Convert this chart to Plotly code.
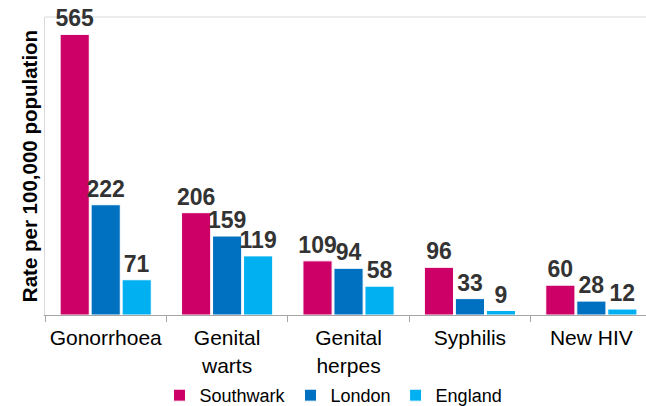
import plotly.graph_objects as go

categories = ["Gonorrhoea", "Genital<br>warts", "Genital<br>herpes", "Syphilis", "New HIV"]
southwark = [565, 206, 109, 96, 60]
london = [222, 159, 94, 33, 28]
england = [71, 119, 58, 9, 12]

series = [
    ("Southwark", southwark, "#CC0066"),
    ("London", london, "#0070C0"),
    ("England", england, "#00B0F0"),
]

fig = go.Figure()
for name, vals, col in series:
    fig.add_trace(go.Bar(
        x=categories, y=vals, name=name,
        marker=dict(color=col, line=dict(color="white", width=1)),
        text=[str(v) for v in vals], textposition="outside",
        constraintext="none", cliponaxis=False,
        textfont=dict(family="Liberation Sans, Arial", size=23, color="#333333", weight="bold"),
    ))

fig.update_layout(
    width=646, height=406,
    margin=dict(l=45, r=0, t=17, b=91, autoexpand=False),
    paper_bgcolor="white", plot_bgcolor="white",
    barmode="group", bargap=0.234, bargroupgap=0.06,
    font=dict(family="Liberation Sans, Arial", color="#000000"),
    showlegend=True,
    legend=dict(orientation="h", x=0.48, xanchor="center", y=-0.27, yanchor="middle",
                font=dict(size=18, color="#000000"), itemwidth=30,
                traceorder="normal"),
    xaxis=dict(
        type="category", range=[-0.5, 4.45], automargin=False,
        showline=True, linecolor="#A6A6A6", linewidth=1, mirror=False,
        ticks="outside", ticklen=6, tickcolor="#A6A6A6", tickson="boundaries",
        ticklabelstandoff=4,
        tickfont=dict(size=21, color="#000000"), showgrid=False,
    ),
    yaxis=dict(
        range=[0, 600], showticklabels=False, showgrid=False, zeroline=False,
        showline=True, linecolor="#D9D9D9", linewidth=1, ticks="", automargin=False,
        title=dict(text="Rate per 100,000 population", standoff=0,
                   font=dict(size=20.5, color="#000000", weight="bold")),
    ),
    shapes=[dict(type="line", xref="paper", yref="paper", x0=0, x1=1, y0=1, y1=1,
                 line=dict(color="#D9D9D9", width=1), layer="below")],
)

fig.write_html("out.html", config={"displayModeBar": False},
               post_script="document.body.style.margin='0';document.body.style.padding='0';")
